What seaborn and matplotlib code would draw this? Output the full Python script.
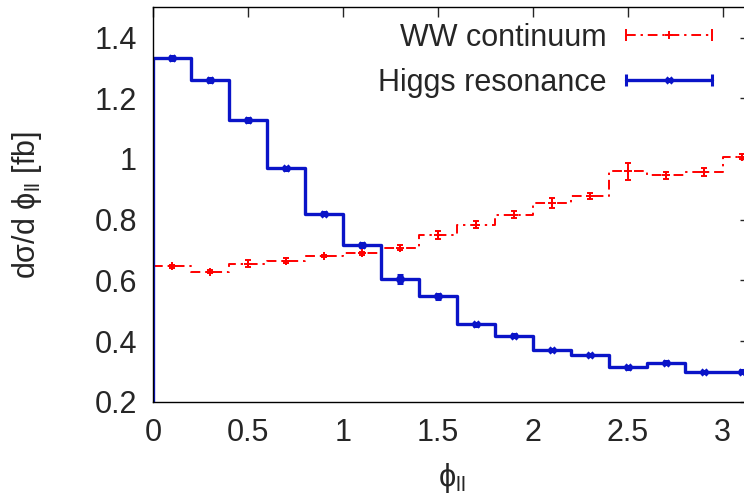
import matplotlib
matplotlib.use('Agg')
import matplotlib.pyplot as plt
import numpy as np
import pandas as pd
import seaborn as sns
from matplotlib.lines import Line2D
from matplotlib.legend_handler import HandlerLine2D, HandlerTuple

# bins of phi_ll (width 0.2)
bin_edges = [0.0, 0.2, 0.4, 0.6, 0.8, 1.0, 1.2, 1.4, 1.6, 1.8, 2.0, 2.2, 2.4, 2.6, 2.8, 3.0, 3.2]
bin_centres = [0.1, 0.3, 0.5, 0.7, 0.9, 1.1, 1.3, 1.5, 1.7, 1.9, 2.1, 2.3, 2.5, 2.7, 2.9, 3.1]

ww_values = [0.646, 0.628, 0.655, 0.665, 0.681, 0.689, 0.707, 0.749,
             0.783, 0.816, 0.856, 0.878, 0.960, 0.946, 0.957, 1.008]
ww_errors = [0.005, 0.005, 0.012, 0.009, 0.004, 0.005, 0.008, 0.013,
             0.011, 0.012, 0.016, 0.009, 0.028, 0.012, 0.014, 0.008]

higgs_values = [1.332, 1.260, 1.129, 0.969, 0.819, 0.716, 0.605, 0.547,
                0.456, 0.418, 0.371, 0.354, 0.314, 0.329, 0.297, 0.299]
higgs_errors = [0.007, 0.007, 0.007, 0.005, 0.005, 0.007, 0.014, 0.008,
                0.005, 0.005, 0.004, 0.004, 0.005, 0.005, 0.004, 0.004]

x_ticks = [0, 0.5, 1, 1.5, 2, 2.5, 3]
x_tick_labels = ['0', '0.5', '1', '1.5', '2', '2.5', '3']
y_ticks = [0.2, 0.4, 0.6, 0.8, 1.0, 1.2, 1.4]
y_tick_labels = ['0.2', '0.4', '0.6', '0.8', '1', '1.2', '1.4']

red = '#ff0000'
blue = '#0a14c8'
red_dash = (0, (5, 2.5, 1.2, 2.5))

sns.set_style('white')
plt.rcParams['font.family'] = ['Liberation Sans', 'DejaVu Sans']
plt.rcParams['mathtext.fontset'] = 'custom'
plt.rcParams['mathtext.rm'] = 'Liberation Sans'
plt.rcParams['mathtext.it'] = 'Liberation Sans:italic'
plt.rcParams['font.size'] = 22


def step_frame(values):
    # histogram outline starting from the baseline at the first edge
    xs = [bin_edges[0]] + list(bin_edges)
    ys = [0.0] + list(values) + [values[-1]]
    return pd.DataFrame({'x': xs, 'y': ys})


fig = plt.figure(figsize=(7.44, 4.98), dpi=100)
ax = fig.add_axes([0.2063, 0.1934, 0.8012, 0.792])

sns.lineplot(data=step_frame(ww_values), x='x', y='y', ax=ax, estimator=None, sort=False,
             drawstyle='steps-post', color=red, lw=1.4, linestyle=red_dash)
sns.lineplot(data=step_frame(higgs_values), x='x', y='y', ax=ax, estimator=None, sort=False,
             drawstyle='steps-post', color=blue, lw=2.4)

ax.errorbar(bin_centres, ww_values, yerr=ww_errors, fmt='+', color=red, ms=6, mew=1.4,
            elinewidth=1.4, capsize=2.5, capthick=1.4)
ax.errorbar(bin_centres, higgs_values, yerr=higgs_errors, fmt='x', color=blue, ms=5, mew=2.2,
            elinewidth=2.2, capsize=2.5, capthick=2.2)

ax.set_xlim(0, np.pi)
ax.set_ylim(0.2, 1.5)
ax.set_xticks(x_ticks)
ax.set_xticklabels(x_tick_labels)
ax.set_yticks(y_ticks)
ax.set_yticklabels(y_tick_labels)
ax.tick_params(direction='in', length=7, width=1, top=True, right=True, pad=12, labelsize=22)
for sp in ax.spines.values():
    sp.set_linewidth(1)
    sp.set_color('black')

ax.set_xlabel('ϕ$_{\\mathrm{ll}}$', fontsize=22, labelpad=9)
ax.set_ylabel('dσ/d ϕ$_{\\mathrm{ll}}$ [fb]', fontsize=22, labelpad=36)

# gnuplot style legend keys: line with end caps and a point in the middle
ww_caps = Line2D([], [], color=red, lw=1.4, linestyle=red_dash, marker='|', ms=8, mew=1.4)
ww_pt = Line2D([], [], color=red, ls='none', marker='+', ms=6, mew=1.4)
hg_caps = Line2D([], [], color=blue, lw=2.4, marker='|', ms=8, mew=2.2)
hg_pt = Line2D([], [], color=blue, ls='none', marker='x', ms=5, mew=2.2)
hmap = {
    ww_caps: HandlerLine2D(numpoints=2), hg_caps: HandlerLine2D(numpoints=2),
    ww_pt: HandlerLine2D(numpoints=1), hg_pt: HandlerLine2D(numpoints=1),
    tuple: HandlerTuple(ndivide=1, pad=0),
}
ax.legend([(ww_caps, ww_pt), (hg_caps, hg_pt)], ['WW continuum', 'Higgs resonance'],
          handler_map=hmap, loc='upper right', bbox_to_anchor=(0.952, 0.96),
          frameon=False, markerfirst=False, borderpad=0, borderaxespad=0,
          handlelength=3.4, handletextpad=0.34, labelspacing=0.48, fontsize=22)

fig.savefig('out.png', dpi=100)
plt.close(fig)
